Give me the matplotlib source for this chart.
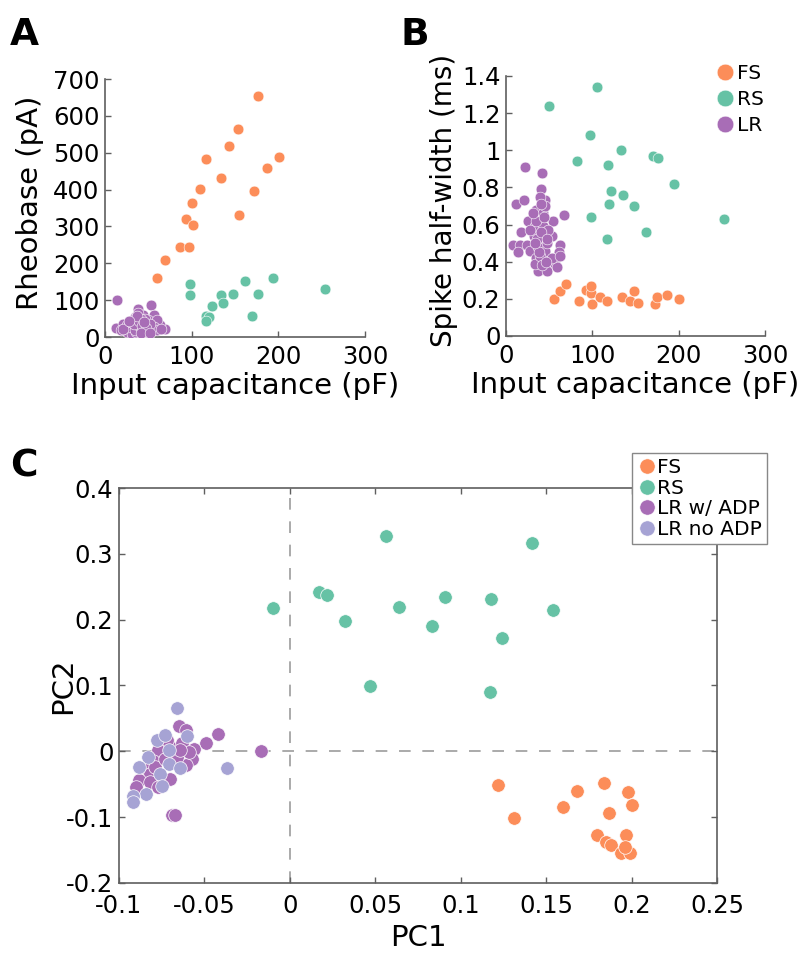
import matplotlib
matplotlib.use("Agg")
import matplotlib.pyplot as plt
from matplotlib.lines import Line2D

plt.rcParams['font.family'] = ['DejaVu Sans']

# colours
c_fs = '#FC8D59'
c_rs = '#66C2A5'
c_lr = '#A86DB6'
c_lr_no = '#A6A3D4'

# ---- panel A : input capacitance (pF) vs rheobase (pA)
a_fs_cap = [60, 69, 86, 94, 97, 100, 101, 110, 117, 134, 143, 153, 155, 172, 176, 187, 201]
a_fs_rheo = [159, 208, 245, 320, 245, 363, 305, 402, 483, 432, 518, 565, 332, 397, 655, 459, 489]
a_rs_cap = [254, 194, 162, 176, 148, 134, 136, 123, 98, 98, 117, 120, 117, 170]
a_rs_rheo = [129, 160, 153, 118, 118, 113, 91, 83, 145, 113, 56, 54, 43, 58]
a_lr_cap = [14, 53, 38, 13, 21, 35, 44, 56, 69, 40, 63, 54, 29, 25, 19, 36, 46, 50, 33, 40,
            60, 42, 48, 31, 36, 56, 25, 38, 33, 50, 44, 60, 27, 35, 46, 52, 38, 42, 65, 21,
            30, 34, 39, 43, 47, 37, 41, 45, 28, 52]
a_lr_rheo = [100, 88, 77, 24, 36, 54, 59, 59, 23, 5, 32, 18, 23, 14, 18, 27, 36, 45, 41, 36,
             45, 18, 14, 9, 14, 27, 32, 64, 50, 27, 23, 18, 27, 18, 50, 36, 32, 50, 23, 23,
             40, 34, 44, 30, 24, 58, 12, 42, 44, 10]

# ---- panel B : input capacitance (pF) vs spike half-width (ms)
b_fs_cap = [55, 62, 70, 85, 93, 98, 99, 100, 109, 117, 134, 144, 148, 153, 173, 175, 186, 200]
b_fs_hw = [0.20, 0.24, 0.28, 0.19, 0.25, 0.23, 0.27, 0.17, 0.21, 0.19, 0.21, 0.19, 0.24, 0.18,
           0.17, 0.21, 0.22, 0.20]
b_rs_cap = [50, 105, 97, 82, 133, 118, 170, 176, 195, 122, 135, 119, 148, 98, 117, 162, 253]
b_rs_hw = [1.24, 1.34, 1.08, 0.94, 1.00, 0.92, 0.97, 0.96, 0.82, 0.78, 0.76, 0.71, 0.70, 0.64,
           0.52, 0.56, 0.63]
b_lr_cap = [22, 42, 40, 12, 21, 45, 67, 26, 54, 17, 39, 53, 8, 16, 24, 62, 14, 28, 35, 61,
            57, 37, 47, 59, 34, 47, 35, 43, 34, 43, 37, 45, 32, 49, 39, 45, 28, 39, 53, 62,
            35, 47, 36, 41, 44, 38, 33, 42, 48, 31, 40, 46]
b_lr_hw = [0.91, 0.88, 0.79, 0.71, 0.73, 0.73, 0.65, 0.62, 0.62, 0.56, 0.54, 0.54, 0.49, 0.49,
           0.49, 0.49, 0.45, 0.46, 0.42, 0.45, 0.39, 0.35, 0.35, 0.37, 0.39, 0.41, 0.68, 0.66,
           0.59, 0.59, 0.48, 0.46, 0.54, 0.57, 0.75, 0.70, 0.57, 0.43, 0.42, 0.43, 0.62, 0.50,
           0.52, 0.56, 0.64, 0.45, 0.50, 0.38, 0.52, 0.66, 0.71, 0.40]

# ---- panel C : PCA
c_fs_pc1 = [0.122, 0.131, 0.160, 0.168, 0.184, 0.198, 0.200, 0.187, 0.180, 0.185, 0.188,
            0.197, 0.194, 0.199, 0.196]
c_fs_pc2 = [-0.051, -0.101, -0.084, -0.061, -0.048, -0.062, -0.082, -0.093, -0.127, -0.137,
            -0.143, -0.127, -0.154, -0.154, -0.145]
c_rs_pc1 = [-0.010, 0.017, 0.022, 0.032, 0.056, 0.064, 0.047, 0.083, 0.091, 0.118, 0.124,
            0.117, 0.142, 0.154]
c_rs_pc2 = [0.218, 0.242, 0.238, 0.198, 0.327, 0.219, 0.099, 0.190, 0.235, 0.232, 0.172,
            0.090, 0.317, 0.215]
c_lr_pc1 = [-0.065, -0.061, -0.042, -0.049, -0.017, -0.069, -0.067, -0.056, -0.057, -0.061,
            -0.066, -0.070, -0.072, -0.077, -0.080, -0.085, -0.082, -0.079, -0.088, -0.090,
            -0.082, -0.077, -0.070, -0.073, -0.063, -0.059, -0.064]
c_lr_pc2 = [0.038, 0.033, 0.026, 0.012, 0.001, -0.097, -0.096, 0.003, -0.011, -0.021,
            -0.009, 0.007, 0.017, 0.002, -0.014, -0.026, -0.034, -0.024, -0.044, -0.054,
            -0.047, -0.054, -0.042, -0.011, 0.012, -0.001, 0.002]
c_lrno_pc1 = [-0.066, -0.078, -0.073, -0.060, -0.083, -0.088, -0.071, -0.076, -0.037, -0.064,
              -0.075, -0.084, -0.092, -0.092, -0.071]
c_lrno_pc2 = [0.066, 0.017, 0.025, 0.023, -0.008, -0.024, -0.020, -0.034, -0.025, -0.025,
              -0.052, -0.065, -0.068, -0.077, 0.002]

fig = plt.figure(figsize=(8.05, 9.58), dpi=100)
axA = fig.add_axes([0.1304, 0.6482, 0.3230, 0.2693])
axB = fig.add_axes([0.6286, 0.6493, 0.3217, 0.2714])
axC = fig.add_axes([0.1478, 0.0783, 0.7429, 0.4123])

spine_col = '#5F5F5F'
tick_fs = 17.5
lab_fs = 21

def style(ax, box=False):
    for s in ax.spines.values():
        s.set_color(spine_col)
        s.set_linewidth(1.2)
    if not box:
        ax.spines['top'].set_visible(False)
        ax.spines['right'].set_visible(False)
    ax.tick_params(direction='in', length=4, width=1, color=spine_col,
                   labelsize=tick_fs, top=box, right=box)
    ax.tick_params(axis='x', pad=6)
    ax.tick_params(axis='y', pad=4)

kw = dict(s=60, edgecolors='white', linewidths=0.4, zorder=3)

# A
axA.scatter(a_fs_cap, a_fs_rheo, c=c_fs, **kw)
axA.scatter(a_rs_cap, a_rs_rheo, c=c_rs, **kw)
axA.scatter(a_lr_cap, a_lr_rheo, c=c_lr, **kw)
axA.set_xlim(0, 300)
axA.set_ylim(0, 700)
axA.set_xticks([0, 100, 200, 300])
axA.set_yticks(range(0, 701, 100))
axA.set_xlabel('Input capacitance (pF)', fontsize=lab_fs, labelpad=2)
axA.set_ylabel('Rheobase (pA)', fontsize=lab_fs)
axA.yaxis.set_label_coords(-0.235, 0.52)
style(axA)

# B
axB.scatter(b_fs_cap, b_fs_hw, c=c_fs, **kw)
axB.scatter(b_rs_cap, b_rs_hw, c=c_rs, **kw)
axB.scatter(b_lr_cap, b_lr_hw, c=c_lr, **kw)
axB.set_xlim(0, 300)
axB.set_ylim(0, 1.4)
axB.set_xticks([0, 100, 200, 300])
axB.set_yticks([0, 0.2, 0.4, 0.6, 0.8, 1, 1.2, 1.4])
axB.set_yticklabels(['0', '0.2', '0.4', '0.6', '0.8', '1', '1.2', '1.4'])
axB.set_xlabel('Input capacitance (pF)', fontsize=lab_fs, labelpad=2)
axB.set_ylabel('Spike half-width (ms)', fontsize=20)
axB.yaxis.set_label_coords(-0.185, 0.52)
style(axB)
hB = [Line2D([], [], ls='none', marker='o', ms=12, mfc=c, mec='white', mew=0.4)
      for c in (c_fs, c_rs, c_lr)]
axB.legend(hB, ['FS', 'RS', 'LR'], loc='upper left', bbox_to_anchor=(713 / 805, 1 - 64 / 958),
           bbox_transform=fig.transFigure, frameon=False, fontsize=14.5,
           handletextpad=0.0, labelspacing=0.35, handlelength=1.2, borderaxespad=0,
           borderpad=0)

# C
kwC = dict(s=95, edgecolors='white', linewidths=0.5, zorder=3)
axC.axhline(0, color='#AAAAAA', lw=1.4, dashes=(6, 6), zorder=1)
axC.axvline(0, color='#AAAAAA', lw=1.4, dashes=(6, 6), zorder=1)
axC.scatter(c_fs_pc1, c_fs_pc2, c=c_fs, **kwC)
axC.scatter(c_rs_pc1, c_rs_pc2, c=c_rs, **kwC)
axC.scatter(c_lr_pc1, c_lr_pc2, c=c_lr, **kwC)
axC.scatter(c_lrno_pc1, c_lrno_pc2, c=c_lr_no, **kwC)
axC.set_xlim(-0.1, 0.25)
axC.set_ylim(-0.2, 0.4)
xt = [-0.1, -0.05, 0, 0.05, 0.1, 0.15, 0.2, 0.25]
axC.set_xticks(xt)
axC.set_xticklabels(['-0.1', '-0.05', '0', '0.05', '0.1', '0.15', '0.2', '0.25'])
yt = [-0.2, -0.1, 0, 0.1, 0.2, 0.3, 0.4]
axC.set_yticks(yt)
axC.set_yticklabels(['-0.2', '-0.1', '0', '0.1', '0.2', '0.3', '0.4'])
axC.set_xlabel('PC1', fontsize=lab_fs, labelpad=4)
axC.set_ylabel('PC2', fontsize=lab_fs)
axC.yaxis.set_label_coords(-0.07, 0.5)
style(axC, box=True)
axC.tick_params(axis='x', pad=8)
hC = [Line2D([], [], ls='none', marker='o', ms=11, mfc=c, mec='white', mew=0.4)
      for c in (c_fs, c_rs, c_lr, c_lr_no)]
legC = axC.legend(hC, ['FS', 'RS', 'LR w/ ADP', 'LR no ADP'], loc='upper left',
                  bbox_to_anchor=(632 / 805, 1 - 453 / 958), bbox_transform=fig.transFigure,
                  fontsize=14.5, handletextpad=0.0, labelspacing=0.08, handlelength=1.0,
                  borderpad=0.25, borderaxespad=0, fancybox=False, framealpha=1)
legC.get_frame().set_edgecolor('#888888')
legC.get_frame().set_linewidth(1.0)

# panel letters
fig.text(0.012, 0.953, 'A', fontsize=27, fontweight='bold')
fig.text(0.497, 0.953, 'B', fontsize=27, fontweight='bold')
fig.text(0.012, 0.503, 'C', fontsize=27, fontweight='bold')

fig.savefig('out.png', dpi=100)
